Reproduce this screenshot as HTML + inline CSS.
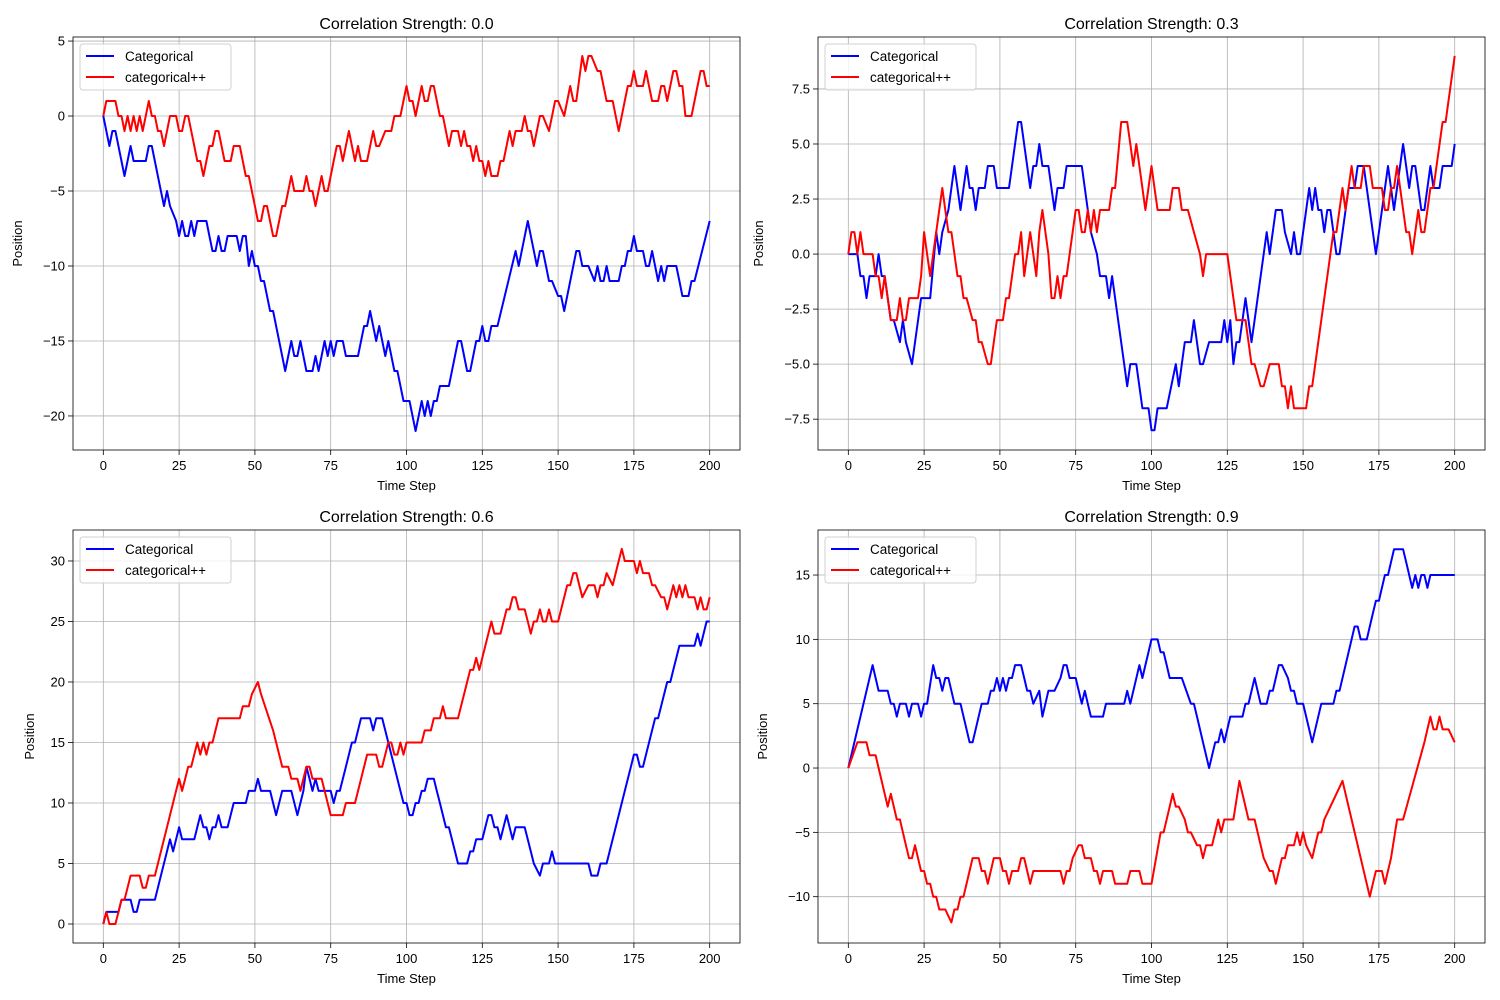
<!DOCTYPE html>
<html><head><meta charset="utf-8"><style>
body{margin:0;background:#fff;}
svg{display:block;font-family:"Liberation Sans","DejaVu Sans",sans-serif;}
</style></head><body>
<svg id="fig" width="1500" height="1000" viewBox="0 0 1500 1000" xmlns="http://www.w3.org/2000/svg"></svg>
<script>
const titles=["Correlation Strength: 0.0","Correlation Strength: 0.3","Correlation Strength: 0.6","Correlation Strength: 0.9"];
const seriesNames=["Categorical","categorical++"];
const xTicks=[0,25,50,75,100,125,150,175,200];
const yTicks0=[5,0,-5,-10,-15,-20];
const yTicks1=[7.5,5.0,2.5,0.0,-2.5,-5.0,-7.5];
const yTicks2=[30,25,20,15,10,5,0];
const yTicks3=[15,10,5,0,-5,-10];
const blue0=[[0,0],[2,-2],[3,-1],[4,-1],[7,-4],[9,-2],[10,-3],[14,-3],[15,-2],[16,-2],[19,-5],[20,-6],[21,-5],[22,-6],[24,-7],[25,-8],[26,-7],[27,-8],[28,-8],[29,-7],[30,-8],[31,-7],[34,-7],[35,-8],[36,-9],[37,-9],[38,-8],[39,-9],[40,-9],[41,-8],[44,-8],[45,-9],[46,-8],[47,-8],[48,-10],[49,-9],[50,-10],[51,-10],[52,-11],[53,-11],[55,-13],[56,-13],[60,-17],[62,-15],[63,-16],[64,-16],[65,-15],[67,-17],[69,-17],[70,-16],[71,-17],[73,-15],[74,-16],[75,-15],[76,-16],[77,-15],[79,-15],[80,-16],[84,-16],[86,-14],[87,-14],[88,-13],[90,-15],[91,-14],[93,-16],[94,-15],[96,-17],[97,-17],[99,-19],[101,-19],[103,-21],[105,-19],[106,-20],[107,-19],[108,-20],[109,-19],[110,-19],[111,-18],[114,-18],[117,-15],[118,-15],[120,-17],[121,-17],[123,-15],[124,-15],[125,-14],[126,-15],[127,-15],[128,-14],[130,-14],[136,-9],[137,-10],[140,-7],[143,-10],[144,-9],[145,-9],[146,-10],[147,-11],[148,-11],[150,-12],[151,-12],[152,-13],[156,-9],[157,-9],[158,-10],[160,-10],[162,-11],[163,-10],[164,-11],[165,-11],[166,-10],[167,-11],[170,-11],[171,-10],[172,-10],[173,-9],[174,-9],[175,-8],[176,-9],[178,-9],[179,-10],[180,-10],[181,-9],[182,-10],[183,-11],[184,-10],[185,-11],[186,-10],[189,-10],[190,-11],[191,-12],[193,-12],[194,-11],[195,-11],[200,-7]];
const red0=[[0,0],[1,1],[4,1],[5,0],[6,0],[7,-1],[8,0],[9,-1],[10,0],[11,-1],[12,0],[13,-1],[15,1],[16,0],[17,0],[18,-1],[19,-1],[20,-2],[22,0],[24,0],[25,-1],[26,-1],[27,0],[28,0],[30,-2],[31,-3],[32,-3],[33,-4],[35,-2],[36,-2],[37,-1],[38,-1],[40,-3],[42,-3],[43,-2],[45,-2],[46,-3],[47,-4],[48,-4],[50,-6],[51,-7],[52,-7],[53,-6],[54,-6],[56,-8],[57,-8],[59,-6],[60,-6],[62,-4],[63,-5],[66,-5],[67,-4],[68,-5],[69,-5],[70,-6],[72,-4],[73,-5],[74,-5],[76,-3],[77,-2],[78,-2],[79,-3],[81,-1],[83,-3],[84,-2],[85,-3],[87,-3],[89,-1],[90,-2],[91,-2],[93,-1],[95,-1],[96,0],[98,0],[100,2],[101,1],[102,1],[103,0],[105,2],[106,1],[107,1],[108,2],[109,2],[111,0],[112,0],[114,-2],[115,-1],[117,-1],[118,-2],[119,-1],[120,-2],[121,-2],[122,-3],[123,-2],[124,-3],[125,-3],[126,-4],[127,-3],[128,-4],[130,-4],[131,-3],[132,-3],[134,-1],[135,-2],[136,-1],[138,-1],[139,0],[140,-1],[141,-1],[142,-2],[144,0],[145,0],[147,-1],[149,1],[150,1],[152,0],[154,2],[155,1],[156,1],[158,4],[159,3],[160,4],[161,4],[163,3],[164,3],[166,1],[168,1],[170,-1],[173,2],[174,2],[175,3],[176,2],[178,2],[179,3],[180,2],[181,1],[183,1],[184,2],[185,2],[186,1],[187,2],[188,3],[189,3],[190,2],[191,2],[192,0],[194,0],[197,3],[198,3],[199,2],[200,2]];
const blue1=[[0,0],[3,0],[4,-1],[5,-1],[6,-2],[7,-1],[9,-1],[10,0],[11,-1],[12,-1],[14,-3],[15,-3],[17,-4],[18,-3],[19,-4],[21,-5],[24,-2],[27,-2],[29,1],[30,0],[31,1],[33,2],[35,4],[37,2],[39,4],[40,3],[41,3],[42,2],[43,3],[45,3],[46,4],[48,4],[49,3],[53,3],[56,6],[57,6],[60,3],[61,4],[62,4],[63,5],[64,4],[66,4],[68,2],[69,3],[71,3],[72,4],[77,4],[79,2],[80,1],[82,0],[83,-1],[85,-1],[86,-2],[87,-1],[88,-2],[91,-5],[92,-6],[93,-5],[95,-5],[97,-7],[99,-7],[100,-8],[101,-8],[102,-7],[105,-7],[108,-5],[109,-6],[111,-4],[113,-4],[114,-3],[116,-5],[117,-5],[119,-4],[123,-4],[124,-3],[125,-4],[126,-3],[127,-5],[128,-4],[129,-4],[130,-3],[131,-2],[132,-3],[133,-4],[134,-3],[138,1],[139,0],[141,2],[143,2],[144,1],[146,0],[147,1],[148,0],[149,0],[152,3],[153,2],[154,3],[155,2],[156,2],[157,1],[158,2],[159,2],[161,0],[162,0],[165,3],[167,3],[168,4],[170,4],[174,0],[178,4],[179,3],[180,2],[183,5],[185,3],[186,4],[187,4],[189,2],[190,2],[192,4],[193,3],[195,3],[196,4],[199,4],[200,5]];
const red1=[[0,0],[1,1],[2,1],[3,0],[4,1],[5,0],[8,0],[9,-1],[10,-1],[11,-2],[12,-1],[13,-2],[14,-3],[16,-3],[17,-2],[18,-3],[19,-3],[20,-2],[23,-2],[24,-1],[25,1],[26,0],[27,-1],[29,1],[31,3],[32,2],[33,1],[34,1],[36,-1],[37,-1],[38,-2],[39,-2],[41,-3],[42,-3],[43,-4],[44,-4],[46,-5],[47,-5],[48,-4],[49,-3],[51,-3],[52,-2],[53,-2],[55,0],[56,0],[57,1],[58,-1],[60,1],[61,0],[62,-1],[63,1],[64,2],[65,1],[66,0],[67,-2],[68,-2],[69,-1],[70,-2],[71,-1],[72,-1],[73,0],[75,2],[76,2],[77,1],[78,1],[79,2],[80,1],[81,2],[82,1],[83,2],[86,2],[87,3],[88,3],[90,6],[92,6],[93,5],[94,4],[95,5],[96,4],[98,2],[100,4],[101,3],[102,2],[106,2],[107,3],[109,3],[110,2],[112,2],[114,1],[116,0],[117,-1],[118,0],[125,0],[127,-2],[128,-3],[131,-3],[133,-5],[134,-5],[136,-6],[137,-6],[139,-5],[140,-5],[142,-5],[143,-6],[144,-6],[145,-7],[146,-6],[147,-7],[151,-7],[152,-6],[153,-6],[160,1],[161,1],[163,3],[164,2],[166,4],[167,3],[169,3],[170,4],[172,4],[173,3],[176,3],[177,2],[178,2],[179,3],[180,3],[181,4],[184,1],[185,1],[186,0],[188,2],[189,1],[190,1],[192,3],[193,3],[196,6],[197,6],[200,9]];
const blue2=[[0,0],[1,1],[5,1],[6,2],[9,2],[10,1],[11,1],[12,2],[17,2],[19,4],[21,6],[22,7],[23,6],[25,8],[26,7],[30,7],[32,9],[33,8],[34,8],[35,7],[36,8],[37,8],[38,9],[39,8],[41,8],[43,10],[47,10],[48,11],[50,11],[51,12],[52,11],[55,11],[57,9],[59,11],[62,11],[64,9],[66,11],[67,13],[68,12],[69,11],[70,12],[71,11],[75,11],[76,10],[77,11],[78,11],[80,13],[81,14],[82,15],[83,15],[85,17],[88,17],[89,16],[90,17],[92,17],[94,15],[98,11],[99,10],[100,10],[101,9],[102,9],[103,10],[104,10],[105,11],[106,11],[107,12],[109,12],[110,11],[111,10],[113,8],[114,8],[116,6],[117,5],[120,5],[121,6],[122,6],[123,7],[125,7],[126,8],[127,9],[128,9],[129,8],[130,8],[131,7],[132,8],[133,9],[134,8],[135,7],[136,8],[139,8],[141,6],[142,5],[144,4],[145,5],[147,5],[148,6],[149,5],[160,5],[161,4],[163,4],[164,5],[166,5],[172,11],[174,13],[175,14],[176,14],[177,13],[178,13],[182,17],[183,17],[186,20],[187,20],[188,21],[190,23],[195,23],[196,24],[197,23],[199,25],[200,25]];
const red2=[[0,0],[1,1],[2,0],[4,0],[5,1],[6,2],[7,2],[9,4],[12,4],[13,3],[14,3],[15,4],[17,4],[25,12],[26,11],[27,12],[28,13],[29,13],[31,15],[32,14],[33,15],[34,14],[35,15],[36,15],[38,17],[45,17],[46,18],[48,18],[49,19],[51,20],[52,19],[56,16],[58,14],[59,13],[61,13],[62,12],[64,12],[65,11],[66,12],[67,13],[68,13],[69,12],[72,12],[75,9],[79,9],[80,10],[83,10],[86,13],[87,14],[90,14],[91,13],[92,13],[94,15],[95,15],[96,14],[97,14],[98,15],[99,14],[100,15],[105,15],[106,16],[108,16],[109,17],[111,17],[112,18],[113,17],[117,17],[121,21],[122,21],[123,22],[124,21],[128,25],[129,24],[131,24],[133,26],[134,26],[135,27],[136,27],[137,26],[139,26],[140,25],[141,24],[142,25],[143,25],[144,26],[145,25],[146,25],[147,26],[148,25],[150,25],[153,28],[154,28],[155,29],[156,29],[157,28],[158,27],[160,28],[162,28],[163,27],[164,28],[165,28],[166,29],[168,28],[170,30],[171,31],[172,30],[175,30],[176,29],[177,30],[178,29],[180,29],[181,28],[182,28],[184,27],[185,27],[186,26],[187,27],[188,28],[189,27],[190,28],[191,27],[192,28],[193,27],[195,27],[196,26],[197,27],[198,26],[199,26],[200,27]];
const blue3=[[0,0],[8,8],[9,7],[10,6],[13,6],[14,5],[15,5],[16,4],[17,5],[19,5],[20,4],[21,5],[23,5],[24,4],[25,5],[26,5],[28,8],[29,7],[30,7],[31,6],[32,7],[33,7],[34,6],[35,5],[37,5],[40,2],[41,2],[44,5],[46,5],[47,6],[48,6],[49,7],[50,6],[51,7],[52,6],[53,7],[54,7],[55,8],[57,8],[58,7],[59,6],[60,6],[61,5],[63,6],[64,4],[65,5],[66,6],[68,6],[70,7],[71,8],[72,8],[73,7],[75,7],[77,5],[78,6],[79,5],[80,4],[84,4],[85,5],[88,5],[91,5],[92,6],[93,5],[96,8],[97,7],[98,8],[100,10],[102,10],[103,9],[104,9],[105,8],[106,7],[110,7],[113,5],[114,5],[115,4],[117,2],[119,0],[121,2],[122,2],[123,3],[124,2],[125,3],[126,4],[130,4],[131,5],[132,5],[134,7],[136,5],[138,5],[139,6],[140,6],[141,7],[142,8],[143,8],[145,7],[146,6],[147,6],[148,5],[150,5],[152,3],[153,2],[156,5],[160,5],[161,6],[162,6],[166,10],[167,11],[168,11],[169,10],[171,10],[173,12],[174,13],[175,13],[176,14],[177,15],[178,15],[180,17],[183,17],[184,16],[186,14],[187,15],[188,14],[189,15],[190,15],[191,14],[192,15],[200,15]];
const red3=[[0,0],[3,2],[6,2],[7,1],[9,1],[13,-3],[14,-2],[15,-3],[16,-4],[17,-4],[19,-6],[20,-7],[21,-7],[22,-6],[23,-7],[24,-8],[25,-8],[26,-9],[27,-9],[28,-10],[29,-10],[30,-11],[32,-11],[34,-12],[35,-11],[36,-11],[37,-10],[38,-10],[41,-7],[43,-7],[44,-8],[45,-8],[46,-9],[48,-7],[50,-7],[51,-8],[52,-8],[53,-9],[54,-8],[56,-8],[57,-7],[58,-7],[59,-8],[60,-9],[61,-8],[70,-8],[71,-9],[72,-8],[73,-8],[74,-7],[76,-6],[77,-6],[78,-7],[80,-7],[81,-8],[82,-8],[83,-9],[84,-8],[87,-8],[88,-9],[92,-9],[93,-8],[96,-8],[97,-9],[100,-9],[103,-5],[104,-5],[106,-3],[107,-2],[108,-3],[109,-3],[111,-4],[112,-5],[113,-5],[115,-6],[116,-6],[117,-7],[118,-6],[120,-6],[121,-5],[122,-4],[123,-5],[124,-4],[127,-4],[129,-1],[131,-3],[132,-4],[134,-4],[137,-7],[139,-8],[140,-8],[141,-9],[143,-7],[144,-7],[145,-6],[147,-6],[148,-5],[149,-6],[150,-5],[151,-6],[153,-7],[154,-6],[155,-5],[156,-5],[157,-4],[159,-3],[163,-1],[172,-10],[173,-9],[174,-8],[176,-8],[177,-9],[179,-7],[181,-4],[183,-4],[190,2],[191,3],[192,4],[193,3],[194,3],[195,4],[196,3],[198,3],[200,2]];

const panels=[
 {L:73,R:740,T:37,B:450,ymin:-22.27,ymax:5.27,yt:yTicks0,fmt:v=>String(v),ylx:22,b:blue0,r:red0},
 {L:818,R:1485,T:37,B:450,ymin:-8.9,ymax:9.86,yt:yTicks1,fmt:v=>v.toFixed(1),ylx:763,b:blue1,r:red1},
 {L:73,R:740,T:530,B:943,ymin:-1.57,ymax:32.56,yt:yTicks2,fmt:v=>String(v),ylx:34,b:blue2,r:red2},
 {L:818,R:1485,T:530,B:943,ymin:-13.6,ymax:18.5,yt:yTicks3,fmt:v=>String(v),ylx:767,b:blue3,r:red3}
];
const NS="http://www.w3.org/2000/svg";
const svg=document.getElementById('fig');
function mk(tag,attrs,parent){const e=document.createElementNS(NS,tag);for(const k in attrs)e.setAttribute(k,attrs[k]);(parent||svg).appendChild(e);return e;}
panels.forEach((p,i)=>{
 const g=mk('g',{});
 
 
 const xs=v=>p.L+(v+10)/220*(p.R-p.L);
 const ys=v=>p.B-(v-p.ymin)/(p.ymax-p.ymin)*(p.B-p.T);
 xTicks.forEach(t=>{
  const x=xs(t);
  const gl=mk('line',{x1:x,x2:x,y1:p.T,y2:p.B,stroke:'#b0b0b0','stroke-width':0.8},g);
  
  
  mk('line',{x1:x,x2:x,y1:p.B,y2:p.B+5,stroke:'#000','stroke-width':0.8},g);
  const tx=mk('text',{x:x,y:p.B+20,'text-anchor':'middle','font-size':13,fill:'#000'},g);
  tx.textContent=t;
  
  
 });
 p.yt.forEach(t=>{
  const y=ys(t);
  const gl=mk('line',{x1:p.L,x2:p.R,y1:y,y2:y,stroke:'#b0b0b0','stroke-width':0.8},g);
  
  
  mk('line',{x1:p.L-5,x2:p.L,y1:y,y2:y,stroke:'#000','stroke-width':0.8},g);
  const tx=mk('text',{x:p.L-8,y:y+4.5,'text-anchor':'end','font-size':13,fill:'#000'},g);
  tx.textContent=p.fmt(t).replace('-','\u2212');
  
  
 });
 [[p.b,'#0000ff','categorical-line'],[p.r,'#ff0000','categorical-plus-plus-line']].forEach(([d,c,n])=>{
  const pl=mk('polyline',{points:d.map(q=>xs(q[0]).toFixed(1)+','+ys(q[1]).toFixed(1)).join(' '),fill:'none',stroke:c,'stroke-width':2,'stroke-linejoin':'round'},g);
  
  
 });
 mk('rect',{x:p.L,y:p.T,width:p.R-p.L,height:p.B-p.T,fill:'none',stroke:'#000','stroke-width':0.8},g);
 const ti=mk('text',{x:(p.L+p.R)/2,y:p.T-8,'text-anchor':'middle','font-size':16,fill:'#000'},g);
 ti.textContent=titles[i];
 
 
 const xl=mk('text',{x:(p.L+p.R)/2,y:p.B+40,'text-anchor':'middle','font-size':13,fill:'#000'},g);
 xl.textContent='Time Step';
 
 
 const cy=(p.T+p.B)/2;
 const yl=mk('text',{x:p.ylx,y:cy,'text-anchor':'middle','font-size':13,fill:'#000',transform:'rotate(-90 '+p.ylx+' '+cy+')'},g);
 yl.textContent='Position';
 
 
 const lg=mk('g',{},g);
 
 
 mk('rect',{x:p.L+7,y:p.T+7,width:151,height:46,rx:3,fill:'#fff','fill-opacity':0.8,stroke:'#d0d0d0','stroke-width':1},lg);
 [['#0000ff',seriesNames[0]],['#ff0000',seriesNames[1]]].forEach(([c,n],k)=>{
  const yy=p.T+19+k*21;
  mk('line',{x1:p.L+13,x2:p.L+41,y1:yy,y2:yy,stroke:c,'stroke-width':2},lg);
  const t=mk('text',{x:p.L+52,y:yy+5,'font-size':13.5,fill:'#000'},lg);
  t.textContent=n;
  
  
 });
});
</script>
</body></html>
